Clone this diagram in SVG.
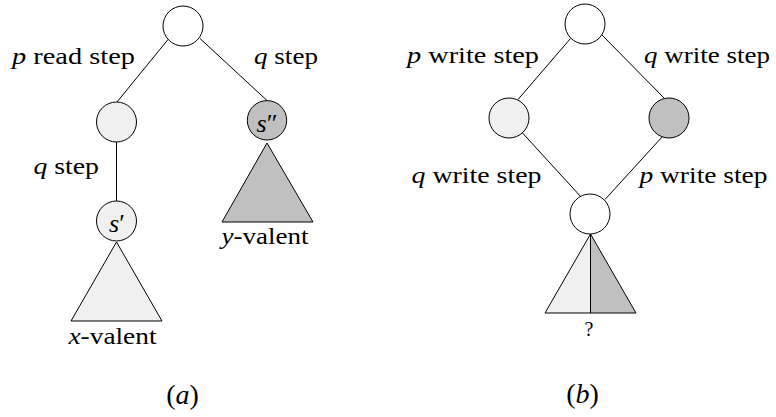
<svg xmlns="http://www.w3.org/2000/svg" width="776" height="417" viewBox="0 0 776 417">
<style>
.n{stroke:#000;stroke-width:1}
.w{fill:#fff}
.l{fill:#f0f0f0}
.d{fill:#c0c0c0}
.e{stroke:#000;stroke-width:1;fill:none}
</style>
<rect width="776" height="417" fill="#fff"/>
<g id="connectors">
<line class="e" x1="168" y1="39.5" x2="117" y2="102"/>
<line class="e" x1="200" y1="38.5" x2="267" y2="100.5"/>
<line class="e" x1="116.5" y1="142" x2="116.5" y2="201"/>
<line class="e" x1="570.5" y1="38.5" x2="518" y2="99.5"/>
<line class="e" x1="602" y1="35" x2="664" y2="98"/>
<line class="e" x1="522.5" y1="133" x2="582" y2="198"/>
<line class="e" x1="662.5" y1="136.5" x2="605" y2="199.5"/>
</g>
<g id="a-root"><circle class="n w" cx="183" cy="26" r="20"/></g>
<g id="a-left"><circle class="n l" cx="116.5" cy="122" r="20"/></g>
<g id="a-s2"><circle class="n d" cx="267" cy="120.3" r="19.7"/><text x="267" y="132" text-anchor="middle" font-family="Times New Roman" font-size="26"><tspan font-style="italic">s</tspan>″</text></g>
<g id="a-s1"><circle class="n l" cx="116.5" cy="221" r="20"/><text x="117" y="232" text-anchor="middle" font-family="Times New Roman" font-size="26"><tspan font-style="italic">s</tspan>′</text></g>
<g id="a-tri-x"><polygon class="n l" points="116.5,242 71,321 162,321"/></g>
<g id="a-tri-y"><polygon class="n d" points="267,143 222,222 313,222"/></g>
<g id="b-root"><circle class="n w" cx="585" cy="24" r="20"/></g>
<g id="b-left"><circle class="n l" cx="509" cy="118" r="20"/></g>
<g id="b-right"><circle class="n d" cx="669" cy="118" r="20"/></g>
<g id="b-bottom"><circle class="n w" cx="590" cy="214" r="20"/></g>
<g id="b-tri">
<polygon class="l" points="590.5,234 545,313 590.5,313"/>
<polygon class="d" points="590.5,234 636,313 590.5,313"/>
<polygon class="e" points="590.5,234 545,313 636,313"/>
<line class="e" x1="590.5" y1="234" x2="590.5" y2="313"/>
</g>
<g id="labels">
<text x="12" y="64" font-family="Times New Roman" font-size="24" textLength="123" lengthAdjust="spacingAndGlyphs"><tspan font-style="italic">p</tspan> read step</text>
<text x="254" y="64" font-family="Times New Roman" font-size="24" textLength="64" lengthAdjust="spacingAndGlyphs"><tspan font-style="italic">q</tspan> step</text>
<text x="33.5" y="173.5" font-family="Times New Roman" font-size="24" textLength="65.5" lengthAdjust="spacingAndGlyphs"><tspan font-style="italic">q</tspan> step</text>
<text x="68.5" y="344" font-family="Times New Roman" font-size="24" textLength="88" lengthAdjust="spacingAndGlyphs"><tspan font-style="italic">x</tspan>-valent</text>
<text x="221.5" y="244" font-family="Times New Roman" font-size="24" textLength="87" lengthAdjust="spacingAndGlyphs"><tspan font-style="italic">y</tspan>-valent</text>
<text x="182.5" y="404" text-anchor="middle" font-family="Times New Roman" font-size="28">(<tspan font-style="italic">a</tspan>)</text>
<text x="407" y="62.5" font-family="Times New Roman" font-size="24" textLength="132" lengthAdjust="spacingAndGlyphs"><tspan font-style="italic">p</tspan> write step</text>
<text x="644" y="62.5" font-family="Times New Roman" font-size="24" textLength="126" lengthAdjust="spacingAndGlyphs"><tspan font-style="italic">q</tspan> write step</text>
<text x="411.5" y="183" font-family="Times New Roman" font-size="24" textLength="130" lengthAdjust="spacingAndGlyphs"><tspan font-style="italic">q</tspan> write step</text>
<text x="639.5" y="183" font-family="Times New Roman" font-size="24" textLength="128" lengthAdjust="spacingAndGlyphs"><tspan font-style="italic">p</tspan> write step</text>
<text x="589" y="336" text-anchor="middle" font-family="Times New Roman" font-size="20">?</text>
<text x="582.5" y="403" text-anchor="middle" font-family="Times New Roman" font-size="28">(<tspan font-style="italic">b</tspan>)</text>
</g>
</svg>
